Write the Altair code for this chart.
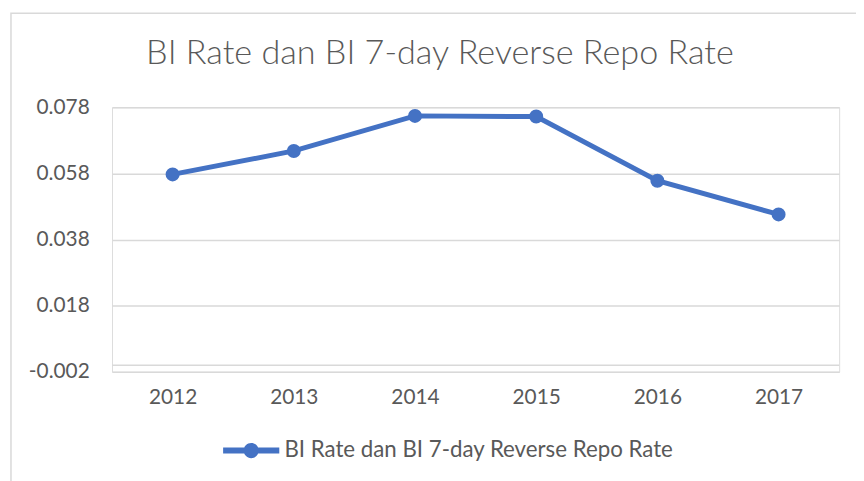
import altair as alt
import pandas as pd

years = ["2012", "2013", "2014", "2015", "2016", "2017"]
rates = [0.0577, 0.0648, 0.0754, 0.0752, 0.0558, 0.0456]
series_name = "BI Rate dan BI 7-day Reverse Repo Rate"
y_ticks = [-0.002, 0.018, 0.038, 0.058, 0.078]

df = pd.DataFrame({"year": years, "rate": rates, "series": [series_name] * len(years)})

BLUE = "#4472C4"
GRID = "#d9d9d9"
TXT = "#595959"
FONT = "Lato"

legend_path = ("M-1,-0.105L1,-0.105L1,0.105L-1,0.105Z "
               "M-0.27,0A0.27,0.27 0 1,1 0.27,0A0.27,0.27 0 1,1 -0.27,0Z")

base = alt.Chart(df)

line = base.mark_line(strokeWidth=5, point=alt.OverlayMarkDef(size=200, filled=True, color=BLUE)).encode(
    x=alt.X("year:O", sort=years,
            axis=alt.Axis(title=None, labelAngle=0, ticks=False, domain=False, grid=False,
                          labelPadding=15, labelFont=FONT, labelFontSize=21, labelColor=TXT)),
    y=alt.Y("rate:Q", scale=alt.Scale(domain=[-0.002, 0.078], nice=False, zero=False),
            axis=alt.Axis(title=None, values=y_ticks, ticks=False, domain=False,
                          gridColor=GRID, gridWidth=1.5, labelPadding=23,
                          labelExpr="replace(format(datum.value, '.3f'), '\u2212', '-')",
                          labelFont=FONT, labelFontSize=21, labelColor=TXT)),
    color=alt.Color("series:N", scale=alt.Scale(range=[BLUE]),
                    legend=alt.Legend(title=None, orient="none", legendX=112, legendY=318,
                                      symbolType=legend_path, symbolSize=3215,
                                      symbolFillColor=BLUE, symbolStrokeWidth=0,
                                      labelOffset=5, labelLimit=0, labelFont=FONT,
                                      labelFontSize=22.5, labelColor=TXT)),
)

zero_rule = alt.Chart(pd.DataFrame({"z": [0.0]})).mark_rule(color=GRID, strokeWidth=1.5).encode(
    y=alt.Y("z:Q")
)

border = alt.Chart(pd.DataFrame({"z": [0]})).mark_rect(fill=None, stroke=GRID, strokeWidth=1.5).encode(
    x=alt.value(-102), x2=alt.value(780), y=alt.value(-95), y2=alt.value(420)
)

title = alt.Chart(pd.DataFrame({"t": [series_name]})).mark_text(
    font=FONT, fontSize=34.5, fontWeight=300, color=TXT, align="center", baseline="middle"
).encode(text="t:N", x=alt.value(331), y=alt.value(-54))

chart = alt.layer(border, zero_rule, line, title).properties(
    width=734, height=267,
    autosize=alt.AutoSizeParams(type="none"),
    padding={"left": 105, "top": 98, "right": 17, "bottom": 108},
).configure_view(stroke=None).configure(background="white")

chart.save("out.html", embed_options={"renderer": "svg", "actions": False})
